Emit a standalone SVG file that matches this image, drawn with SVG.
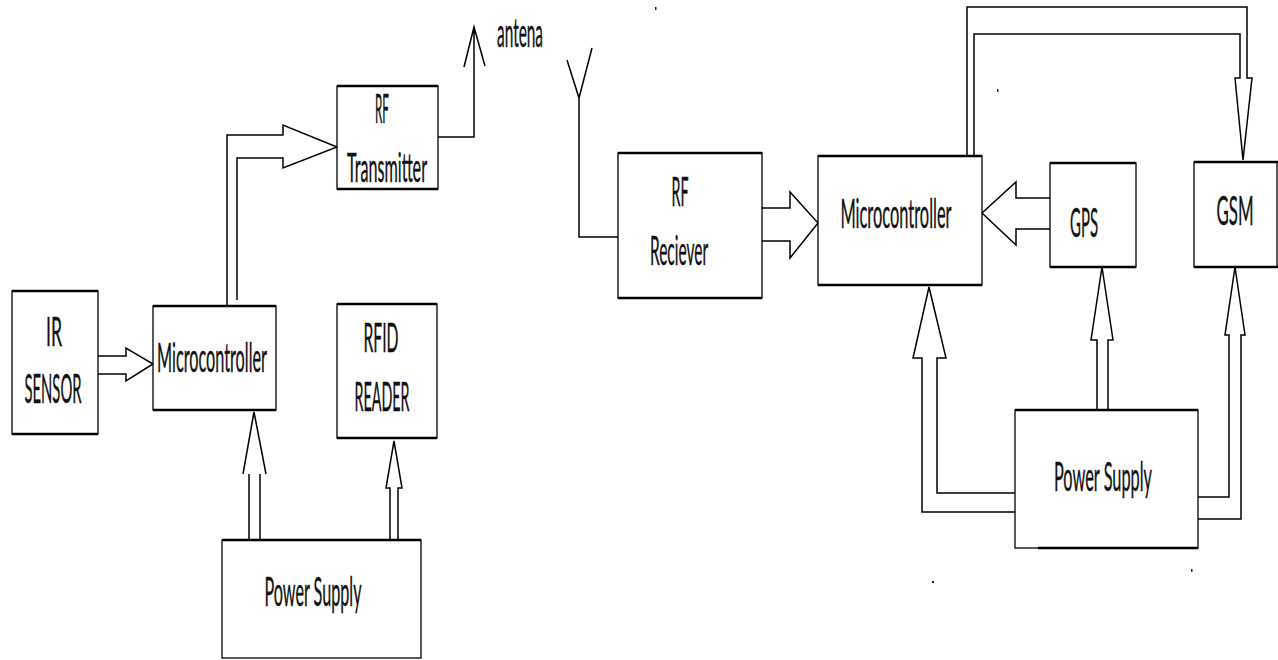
<svg xmlns="http://www.w3.org/2000/svg" width="1278" height="660" viewBox="0 0 1278 660">
<style>
.box{fill:#fff;stroke:#000;stroke-width:1.3}
.edge{fill:none;stroke:#000;stroke-width:2.6}
.c{fill:none;stroke:#000;stroke-width:1.5;stroke-linejoin:miter}
.t{font-family:Lato,"Open Sans","Liberation Sans",sans-serif;font-size:40px;fill:#111;text-anchor:middle;stroke:#111;stroke-width:0.4}
.speck{fill:#222}
</style>
<rect width="1278" height="660" fill="#fff"/>
<g id="connectors">
<polyline class="c" points="98,356 126,356 126,348 153,364 126,381 126,374 98,374"/>
<path class="c" d="M227,306 V135 H283 V125 L337,147 L283,168 V158 H237 V300"/>
<path class="c" d="M438,137 H474 V27 M464,67 L474,27 L485,66"/>
<path class="c" d="M567,60 L579,98 L592,48 M579,98 V237 H618"/>
<path class="c" d="M762,208 H790 V192 L818,223 L790,258 V241 H762"/>
<path class="c" d="M1050,198 H1016 V182 L982,213 L1016,245 V229 H1050"/>
<path class="c" d="M967,156 V7 H1247 V78 H1252 L1243,160 L1235,78 H1240 V34 H974 V156"/>
<path class="c" d="M1015,512 H922 V358 H913 L929,287 L946,358 H937 V493 H1015"/>
<path class="c" d="M1097,410 V340 H1091 L1102,267 L1113,340 H1108 V410"/>
<path class="c" d="M1198,497 H1229 V335 H1225 L1235,267 L1245,335 H1241 V519 H1198"/>
<path class="c" d="M249,540 V474 M260,540 V474 M243,474 L254,412 L266,474"/>
<path class="c" d="M390,540 V488 H386 L394,441 L402,488 H398 V540"/>
</g>
<g id="ir-sensor">
<rect class="box" x="12" y="291" width="86" height="143"/>
<path class="edge" d="M12,291 h86 M12,434 h86"/>
<text class="t" transform="translate(54,346) scale(0.45,1)" font-size="44" textLength="35.6" lengthAdjust="spacingAndGlyphs">IR</text>
<text class="t" transform="translate(53,403) scale(0.45,1)" textLength="126.7" lengthAdjust="spacingAndGlyphs">SENSOR</text>
</g>
<g id="microcontroller-1">
<rect class="box" x="153" y="306" width="123" height="104"/>
<path class="edge" d="M153,306 h123 M153,410 h123"/>
<text class="t" transform="translate(212,372) scale(0.45,1)" textLength="244.4" lengthAdjust="spacingAndGlyphs">Microcontroller</text>
</g>
<g id="rf-transmitter">
<rect class="box" x="337" y="86" width="101" height="103"/>
<path class="edge" d="M337,86 h101 M337,189 h101"/>
<text class="t" transform="translate(382,123) scale(0.45,1)" font-size="30" textLength="31.1" lengthAdjust="spacingAndGlyphs">RF</text>
<text class="t" transform="translate(387,182) scale(0.45,1)" textLength="177.8" lengthAdjust="spacingAndGlyphs">Transmitter</text>
</g>
<g id="antena-label">
<text class="t" transform="translate(520,47) scale(0.45,1)" font-size="31" textLength="102.2" lengthAdjust="spacingAndGlyphs">antena</text>
</g>
<g id="rfid-reader">
<rect class="box" x="337" y="304" width="100" height="134"/>
<path class="edge" d="M337,304 h100 M337,438 h100"/>
<text class="t" transform="translate(381,352) scale(0.45,1)" textLength="77.8" lengthAdjust="spacingAndGlyphs">RFID</text>
<text class="t" transform="translate(382,411) scale(0.45,1)" textLength="122.2" lengthAdjust="spacingAndGlyphs">READER</text>
</g>
<g id="power-supply-1">
<rect class="box" x="222" y="540" width="199" height="118"/>
<path class="edge" d="M222,540 h199"/>
<text class="t" transform="translate(313,606) scale(0.45,1)" textLength="215.6" lengthAdjust="spacingAndGlyphs">Power Supply</text>
</g>
<g id="rf-reciever">
<rect class="box" x="618" y="153" width="144" height="145"/>
<path class="edge" d="M618,153 h144 M618,298 h144"/>
<text class="t" transform="translate(680,206) scale(0.45,1)" font-size="30" textLength="37.8" lengthAdjust="spacingAndGlyphs">RF</text>
<text class="t" transform="translate(679,265) scale(0.45,1)" textLength="128.9" lengthAdjust="spacingAndGlyphs">Reciever</text>
</g>
<g id="microcontroller-2">
<rect class="box" x="818" y="156" width="164" height="129"/>
<path class="edge" d="M818,156 h164 M818,285 h164"/>
<text class="t" transform="translate(896,228) scale(0.45,1)" textLength="246.7" lengthAdjust="spacingAndGlyphs">Microcontroller</text>
</g>
<g id="gps">
<rect class="box" x="1050" y="163" width="86" height="104"/>
<path class="edge" d="M1050,163 h86 M1050,267 h86"/>
<text class="t" transform="translate(1084,237) scale(0.45,1)" textLength="62.2" lengthAdjust="spacingAndGlyphs">GPS</text>
</g>
<g id="gsm">
<rect class="box" x="1194" y="162" width="83" height="105"/>
<path class="edge" d="M1194,162 h84 M1194,267 h84"/>
<text class="t" transform="translate(1235,225) scale(0.45,1)" textLength="82.2" lengthAdjust="spacingAndGlyphs">GSM</text>
</g>
<g id="power-supply-2">
<rect class="box" x="1015" y="410" width="183" height="138"/>
<path class="edge" d="M1015,410 h183 M1038,548 h160"/>
<text class="t" transform="translate(1103,491) scale(0.45,1)" textLength="217.8" lengthAdjust="spacingAndGlyphs">Power Supply</text>
</g>
<g id="specks">
<rect class="speck" x="655" y="7" width="1.5" height="3"/>
<rect class="speck" x="997" y="89" width="1.5" height="3"/>
<rect class="speck" x="932" y="581" width="2" height="2"/>
<rect class="speck" x="1191" y="569" width="1.5" height="3"/>
</g>
</svg>
